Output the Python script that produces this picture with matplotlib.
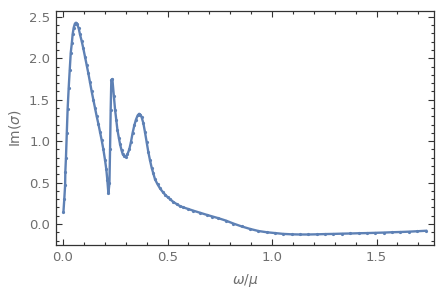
import matplotlib
matplotlib.use("Agg")
from matplotlib import pyplot as plt
from matplotlib.ticker import MultipleLocator

# values
omega = [0.002, 0.006, 0.010, 0.011, 0.014, 0.018, 0.022, 0.027, 0.032, 0.037,
         0.042, 0.046, 0.051, 0.057, 0.062, 0.068, 0.075, 0.081, 0.089, 0.097,
         0.105, 0.113, 0.121, 0.129, 0.137, 0.145, 0.153, 0.161, 0.169, 0.177,
         0.185, 0.193, 0.201, 0.207, 0.212, 0.217, 0.222, 0.225, 0.228, 0.231,
         0.236, 0.243, 0.249, 0.255, 0.260, 0.267, 0.273, 0.280, 0.286, 0.293,
         0.300, 0.308, 0.317, 0.325, 0.333, 0.341, 0.349, 0.357, 0.364, 0.370,
         0.376, 0.384, 0.392, 0.400, 0.408, 0.416, 0.424, 0.432, 0.440, 0.452,
         0.464, 0.476, 0.488, 0.500, 0.512, 0.528, 0.544, 0.560, 0.576, 0.600,
         0.624, 0.656, 0.688, 0.715, 0.743, 0.780, 0.815, 0.855, 0.895, 0.935,
         0.975, 1.015, 1.054, 1.094, 1.134, 1.174, 1.214, 1.254, 1.294, 1.334,
         1.374, 1.414, 1.454, 1.494, 1.534, 1.574, 1.614, 1.654, 1.694, 1.737]
im_sigma = [0.15, 0.30, 0.47, 0.63, 0.80, 1.10, 1.39, 1.64, 1.86, 2.07,
            2.18, 2.29, 2.37, 2.42, 2.43, 2.41, 2.36, 2.29, 2.21, 2.12,
            2.02, 1.92, 1.82, 1.71, 1.60, 1.50, 1.40, 1.30, 1.21, 1.11,
            1.01, 0.90, 0.77, 0.66, 0.53, 0.37, 0.49, 0.90, 1.38, 1.74,
            1.75, 1.55, 1.38, 1.25, 1.14, 1.04, 0.96, 0.89, 0.84, 0.82,
            0.81, 0.84, 0.90, 0.99, 1.10, 1.19, 1.26, 1.31, 1.33, 1.32,
            1.29, 1.22, 1.11, 0.99, 0.87, 0.77, 0.68, 0.61, 0.54, 0.48,
            0.43, 0.39, 0.355, 0.325, 0.30, 0.265, 0.24, 0.215, 0.20, 0.18,
            0.16, 0.135, 0.11, 0.09, 0.07, 0.04, 0.005, -0.03, -0.06, -0.085,
            -0.10, -0.11, -0.12, -0.125, -0.127, -0.127, -0.125, -0.122, -0.12, -0.117,
            -0.115, -0.112, -0.11, -0.107, -0.104, -0.10, -0.097, -0.093, -0.088, -0.082]

x_ticks = [0.0, 0.5, 1.0, 1.5]
y_ticks = [0.0, 0.5, 1.0, 1.5, 2.0, 2.5]

color = "#5E81B5"
gray = "#6e6e6e"

fig = plt.figure(figsize=(4.44, 3.00), dpi=100)
ax = fig.add_axes([0.1255, 0.1833, 0.852, 0.7797])

ax.plot(omega, im_sigma, color=color, lw=1.7, marker="o", ms=2.3,
        markeredgewidth=0, markerfacecolor=color)

ax.set_xlim(-0.035, 1.775)
ax.set_ylim(-0.254, 2.57)
ax.set_xticks(x_ticks)
ax.set_yticks(y_ticks)
ax.set_xticklabels([f"{t:.1f}" for t in x_ticks])
ax.set_yticklabels([f"{t:.1f}" for t in y_ticks])
ax.xaxis.set_minor_locator(MultipleLocator(0.1))
ax.yaxis.set_minor_locator(MultipleLocator(0.1))

ax.tick_params(which="both", direction="in", top=True, right=True,
               labelsize=9.5, labelcolor=gray, color="#333333", width=0.8)
ax.tick_params(which="major", length=4, pad=4)
ax.tick_params(which="minor", length=2)
for s in ax.spines.values():
    s.set_color("#333333")
    s.set_linewidth(0.9)

ax.set_xlabel(r"$\omega/\mu$", color=gray, fontsize=10, labelpad=6)
ax.set_ylabel(r"Im($\sigma$)", color=gray, fontsize=10, labelpad=4)

fig.savefig("out.png", dpi=100)
